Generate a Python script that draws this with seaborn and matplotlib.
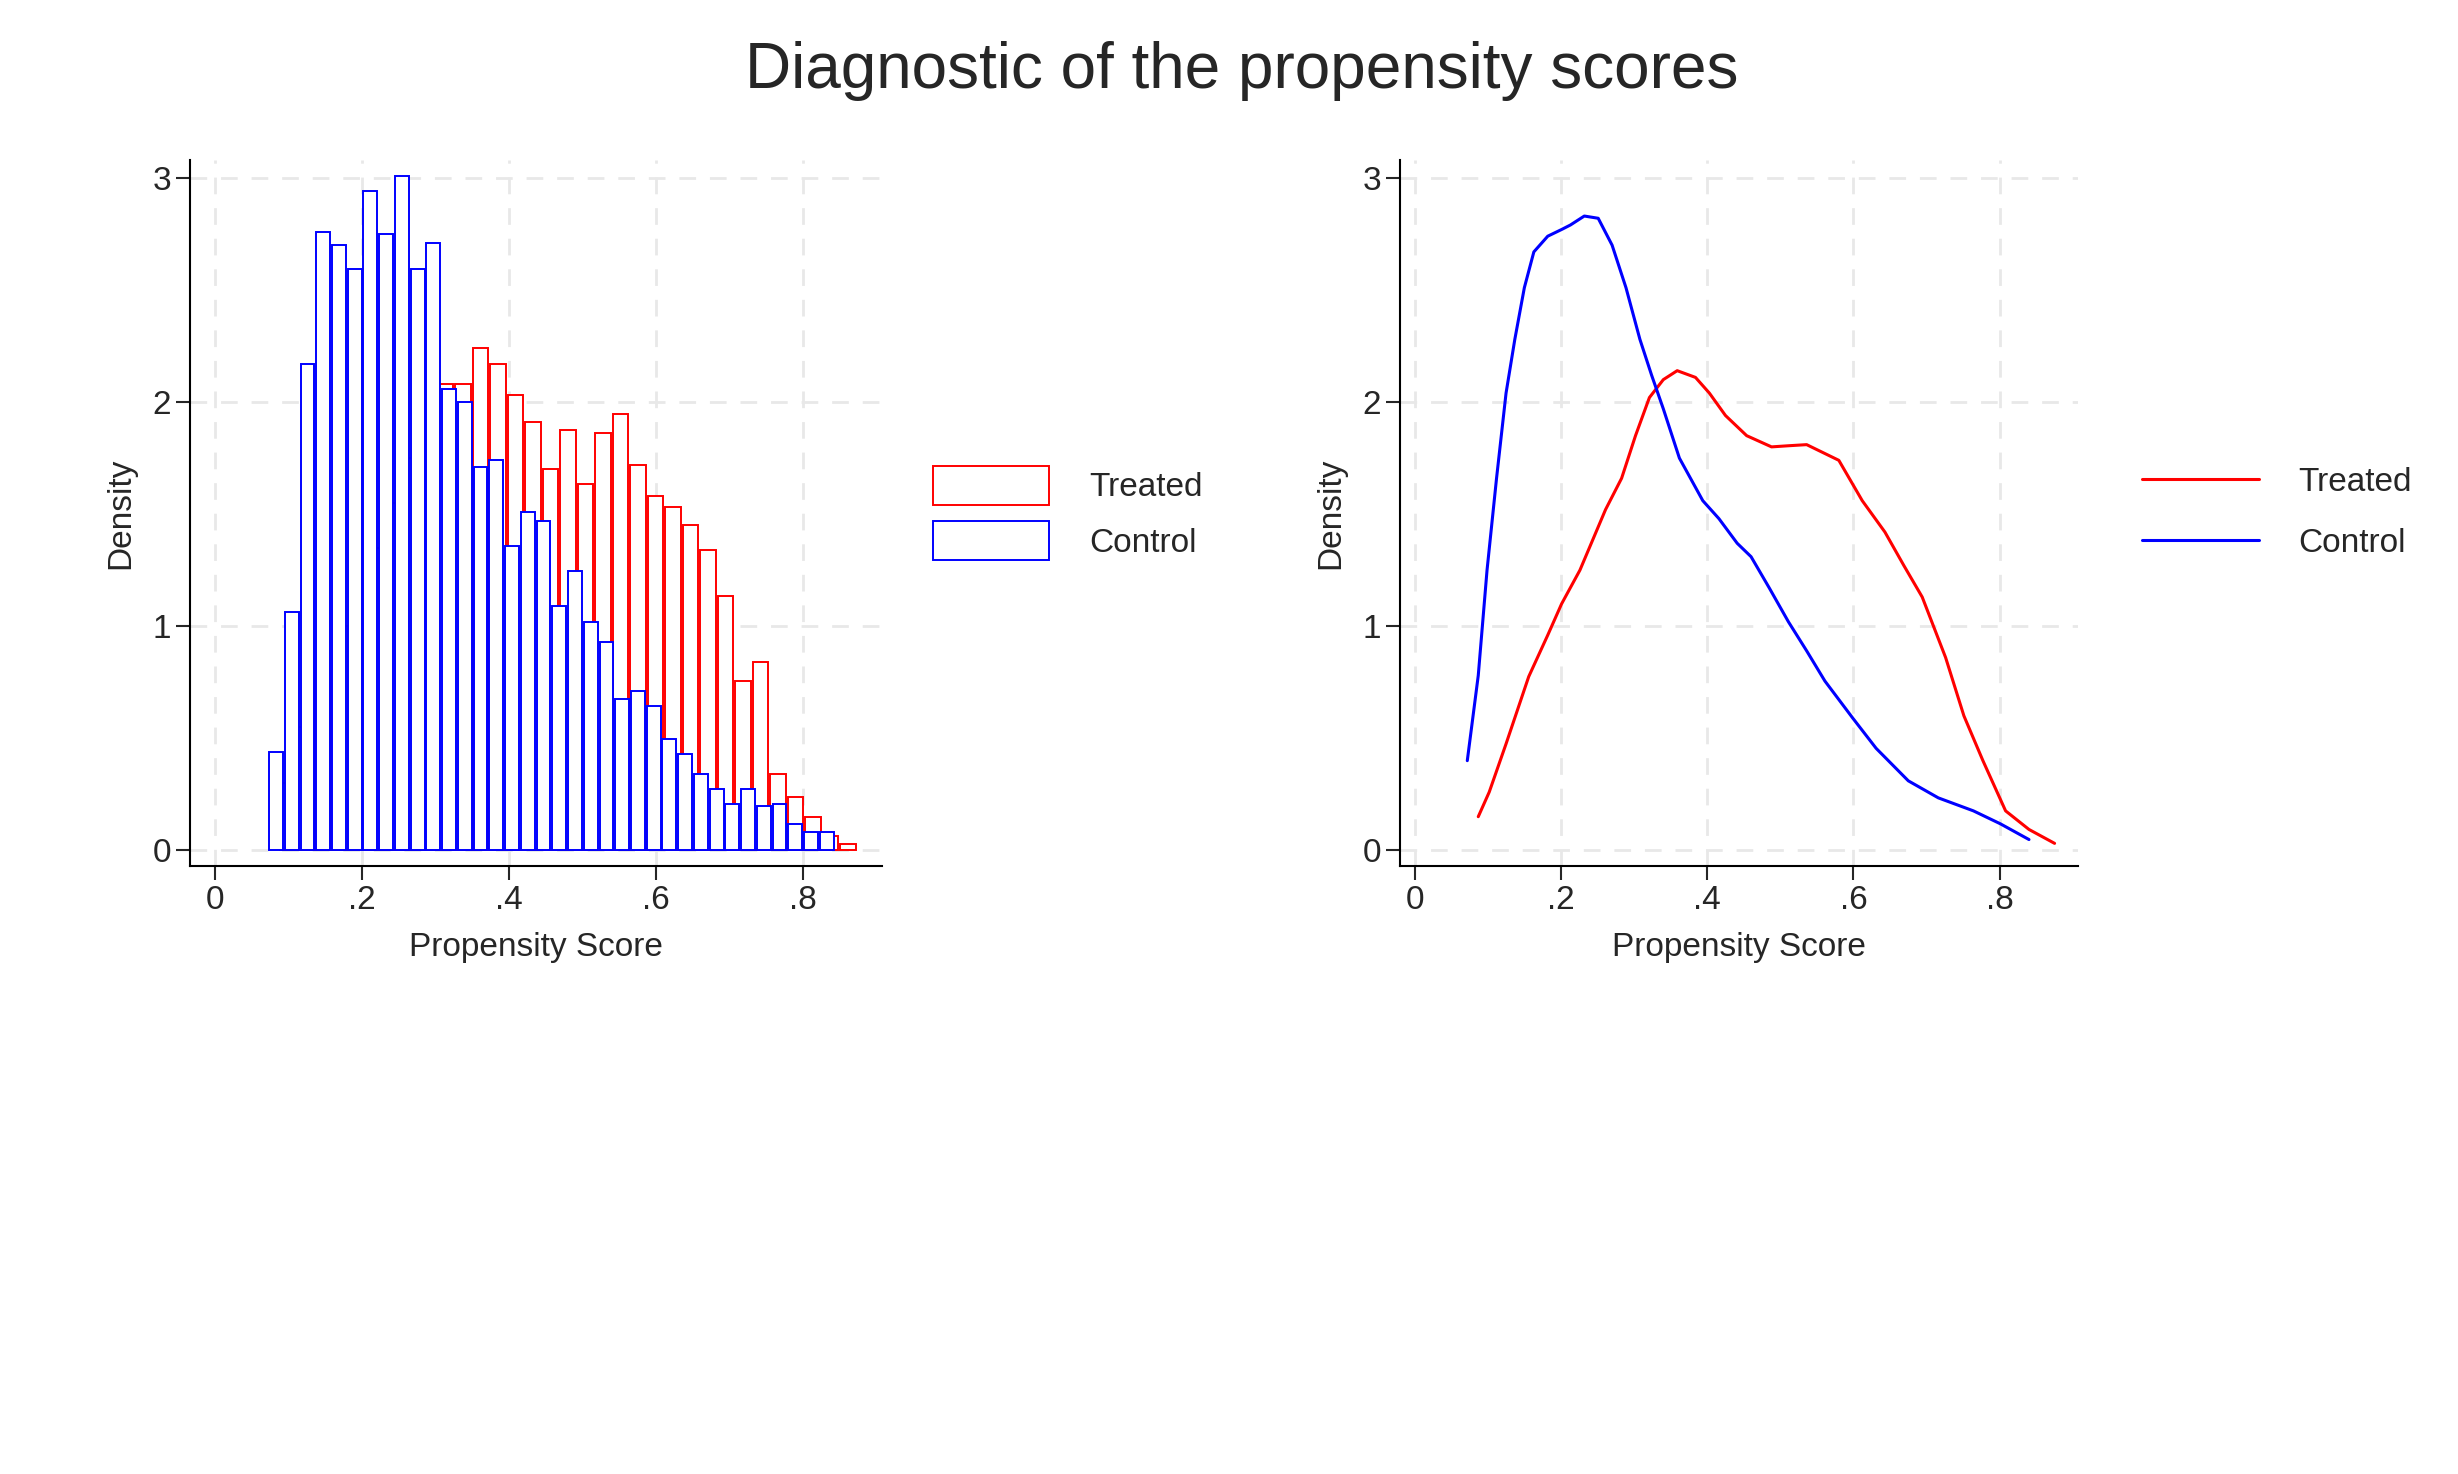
import numpy as np
import pandas as pd
import matplotlib
matplotlib.use("Agg")
import matplotlib.pyplot as plt
import seaborn as sns
from matplotlib.patches import Patch
from matplotlib.lines import Line2D

# histogram bins (density values)
control_start, control_width = 0.0722, 0.0214
control_density = [0.44, 1.065, 2.17, 2.76, 2.70, 2.595, 2.94, 2.75, 3.01, 2.595,
                   2.71, 2.06, 2.00, 1.71, 1.74, 1.356, 1.51, 1.47, 1.09, 1.245,
                   1.02, 0.93, 0.676, 0.71, 0.643, 0.496, 0.43, 0.34, 0.273, 0.207,
                   0.273, 0.196, 0.207, 0.118, 0.083, 0.083]

treated_start, treated_width = 0.0875, 0.0238
treated_density = [0.3, 0.55, 0.8, 1.0, 1.15, 1.35, 1.55, 1.75, 1.95,
                   2.08, 2.08, 2.24, 2.17, 2.03, 1.91, 1.70, 1.875, 1.635, 1.86,
                   1.945, 1.72, 1.58, 1.53, 1.45, 1.34, 1.135, 0.755, 0.84, 0.34,
                   0.238, 0.149, 0.064, 0.027]

# kernel density curves
control_kx = [0.072, 0.087, 0.099, 0.112, 0.125, 0.137, 0.150, 0.163, 0.182, 0.201,
              0.213, 0.232, 0.251, 0.270, 0.289, 0.308, 0.324, 0.340, 0.362, 0.394,
              0.416, 0.441, 0.460, 0.485, 0.511, 0.536, 0.561, 0.599, 0.631, 0.675,
              0.716, 0.764, 0.801, 0.840]
control_ky = [0.40, 0.78, 1.25, 1.66, 2.04, 2.28, 2.51, 2.67, 2.74, 2.77,
              2.79, 2.83, 2.82, 2.70, 2.51, 2.28, 2.12, 1.97, 1.75, 1.56,
              1.48, 1.37, 1.31, 1.17, 1.02, 0.89, 0.755, 0.59, 0.455, 0.31,
              0.234, 0.176, 0.118, 0.048]
treated_kx = [0.087, 0.102, 0.125, 0.156, 0.182, 0.201, 0.226, 0.261, 0.283, 0.302,
              0.321, 0.340, 0.359, 0.384, 0.403, 0.425, 0.454, 0.488, 0.511, 0.536,
              0.580, 0.612, 0.643, 0.669, 0.694, 0.726, 0.751, 0.777, 0.808, 0.840,
              0.875]
treated_ky = [0.15, 0.26, 0.475, 0.775, 0.96, 1.10, 1.25, 1.52, 1.66, 1.85,
              2.02, 2.10, 2.14, 2.11, 2.04, 1.94, 1.85, 1.80, 1.805, 1.81,
              1.74, 1.56, 1.42, 1.27, 1.13, 0.86, 0.60, 0.40, 0.176, 0.093,
              0.031]

xticks = [0, 0.2, 0.4, 0.6, 0.8]
xticklabels = ["0", ".2", ".4", ".6", ".8"]
yticks = [0, 1, 2, 3]

sns.set_style("white")
plt.rcParams['font.family'] = ['Liberation Sans', 'DejaVu Sans']

fig = plt.figure(figsize=(24.58, 14.74), dpi=100)
ax1 = fig.add_axes([190 / 2458, 1 - 866 / 1474, 692 / 2458, 706 / 1474])
ax2 = fig.add_axes([1400 / 2458, 1 - 866 / 1474, 678 / 2458, 706 / 1474])


def hist(ax, start, width, dens, color):
    n = len(dens)
    df = pd.DataFrame({"score": start + width * (np.arange(n) + 0.5),
                       "density": dens})
    sns.histplot(data=df, x="score", weights="density", binwidth=width,
                 binrange=(start, start + n * width), shrink=0.88, ax=ax,
                 color="white", edgecolor=color, linewidth=1.4, alpha=1)


hist(ax1, treated_start, treated_width, treated_density, "red")
hist(ax1, control_start, control_width, control_density, "blue")

sns.lineplot(x=treated_kx, y=treated_ky, sort=False, ax=ax2, color="red", lw=2.2)
sns.lineplot(x=control_kx, y=control_ky, sort=False, ax=ax2, color="blue", lw=2.2)

for ax in (ax1, ax2):
    ax.set_xlim(-0.034, 0.907)
    ax.set_ylim(-0.07, 3.08)
    ax.set_xticks(xticks)
    ax.set_xticklabels(xticklabels)
    ax.set_yticks(yticks)
    ax.grid(True, color="#e8e8e8", linestyle=(0, (6, 5)), linewidth=2)
    ax.set_axisbelow(True)
    for s in ("top", "right"):
        ax.spines[s].set_visible(False)
    for s in ("left", "bottom"):
        ax.spines[s].set_linewidth(1.5)
        ax.spines[s].set_color("black")
    ax.tick_params(axis="both", direction="out", length=10, width=1.5,
                   labelsize=24, left=True, bottom=True)
    ax.set_xlabel("Propensity Score", fontsize=24, labelpad=12)
    ax.set_ylabel("Density", fontsize=24, labelpad=12)
ax2.set_xlim(-0.02, 0.907)

h1 = [Patch(facecolor="white", edgecolor="red", lw=1.4),
      Patch(facecolor="white", edgecolor="blue", lw=1.4)]
ax1.legend(h1, ["Treated", "Control"], loc="center left", bbox_to_anchor=(1.03, 0.5),
           frameon=False, fontsize=24, handlelength=3.5, handleheight=1.4,
           handletextpad=1.2, labelspacing=0.5)
h2 = [Line2D([], [], color="red", lw=2.2), Line2D([], [], color="blue", lw=2.2)]
ax2.legend(h2, ["Treated", "Control"], loc="center left", bbox_to_anchor=(1.05, 0.5),
           frameon=False, fontsize=24, handlelength=3.5, handletextpad=1.2,
           labelspacing=0.9)

fig.text(0.505, 0.952, "Diagnostic of the propensity scores", ha="center", va="center",
         fontsize=46)

fig.savefig("out.png", dpi=100, facecolor="white")
